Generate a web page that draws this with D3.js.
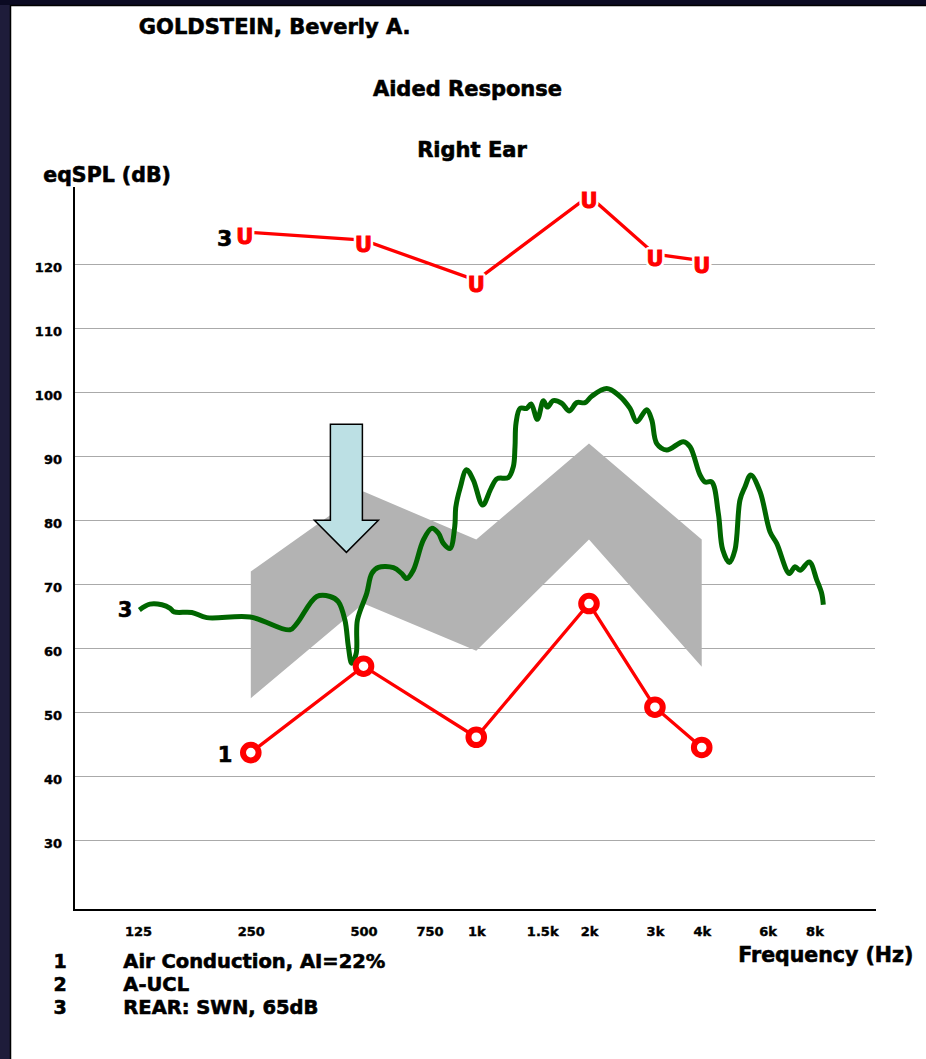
<!DOCTYPE html>
<html>
<head>
<meta charset="utf-8">
<script src="https://cdn.jsdelivr.net/npm/d3@7"></script>
<style>
  html, body { margin: 0; padding: 0; background: #1d1b38; }
  svg { display: block; }
  text { font-family: "DejaVu Sans", "Liberation Sans", Arial, sans-serif; font-weight: bold; }
  text.heavy { stroke: #000; stroke-width: 0.6px; }
</style>
</head>
<body>
<svg id="chart" width="926" height="1059"></svg>
<script>
// ---------- DATA ----------
const freqTicks = [125, 250, 500, 750, 1000, 1500, 2000, 3000, 4000, 6000, 8000];
const freqTickLabels = ["125", "250", "500", "750", "1k", "1.5k", "2k", "3k", "4k", "6k", "8k"];
const dbTicks = [30, 40, 50, 60, 70, 80, 90, 100, 110, 120];

// 1: Air conduction thresholds (aided)
const acFreqs = [250, 500, 1000, 2000, 3000, 4000];
const acValues = [43.7, 57.2, 46.1, 67.0, 50.8, 44.5];

// A-UCL ("U" markers)
const uclFreqs = [250, 500, 1000, 2000, 3000, 4000];
const uclValues = [125.0, 123.8, 117.5, 130.7, 121.6, 120.6];

// Gray speech band
const bandFreqs = [250, 500, 1000, 2000, 4000];
const bandUpper = [72.0, 84.5, 77.0, 92.0, 77.0];
const bandLower = [52.2, 67.0, 59.6, 77.0, 57.1];

// REAR: SWN 65 dB (green curve)
const rearFreqs = [126, 134.5, 144.7, 152.3, 156, 174, 190.7, 249, 318, 332, 375, 407, 428, 446, 455.5, 465, 478, 481.5, 510, 526, 548, 601, 632, 652, 679, 722, 760, 792, 817, 851, 876, 882, 905, 942, 982, 1040, 1095, 1136, 1218, 1256, 1269, 1277, 1309, 1364, 1401, 1456, 1511, 1548, 1606, 1691, 1773, 1855, 1952, 2034, 2230, 2395, 2574, 2682, 2852, 2942, 3034, 3226, 3573, 3723, 3958, 4082, 4255, 4430, 4551, 4740, 4908, 5062, 5220, 5407, 5725, 6088, 6343, 6855, 7100, 7322, 7750, 8112, 8363, 8448];
const rearValues = [66.0, 66.9, 66.8, 66.25, 65.7, 65.6, 64.8, 64.9, 62.9, 63.9, 68.1, 68.1, 67.3, 64.4, 60.25, 57.65, 59.2, 64.4, 68.6, 71.7, 72.65, 72.6, 71.7, 70.9, 72.2, 76.9, 78.75, 78.0, 76.4, 75.6, 79.0, 82.1, 85.0, 87.9, 86.3, 82.4, 85.0, 86.5, 86.7, 88.4, 91.5, 95.2, 97.5, 97.5, 98.2, 95.8, 98.7, 97.7, 98.7, 98.3, 97.1, 98.4, 98.4, 99.4, 100.6, 99.6, 97.5, 95.4, 97.3, 95.7, 92.0, 91.0, 92.3, 91.5, 87.1, 86.0, 86.0, 81.1, 75.4, 73.4, 75.4, 83.2, 85.25, 87.1, 84.5, 78.2, 76.4, 71.7, 72.75, 72.2, 73.5, 70.7, 68.6, 66.8];

// Annotation arrow (frequency, top dB, head-base dB, tip dB)
const arrowFreq = 450;
const arrowTopDb = 95;
const arrowHeadDb = 80;
const arrowTipDb = 75;

const titleText = "GOLDSTEIN, Beverly A.";
const subTitle1 = "Aided Response";
const subTitle2 = "Right Ear";
const yTitle = "eqSPL (dB)";
const xTitle = "Frequency (Hz)";
const legendNums = ["1", "2", "3"];
const legendLabels = ["Air Conduction, AI=22%", "A-UCL", "REAR: SWN, 65dB"];

// ---------- LAYOUT ----------
const W = 926, H = 1059;
const plot = { left: 74, right: 876, top: 187, bottom: 910 };

const svg = d3.select("#chart");

// frame
svg.append("rect").attr("x", 0).attr("y", 0).attr("width", W).attr("height", H).attr("fill", "#1e1c3a");
svg.append("rect").attr("x", 0).attr("y", 0).attr("width", W).attr("height", 5).attr("fill", "#0b0a22");
svg.append("rect").attr("x", 10.5).attr("y", 5.5).attr("width", W).attr("height", H)
  .attr("fill", "#ffffff").attr("stroke", "#000").attr("stroke-width", 1.5);

const x = d3.scaleLog().domain([84.3, 11680]).range([plot.left, plot.right]);
const y = d3.scaleLinear().domain([19.1, 132.1]).range([plot.bottom, plot.top]);

// gridlines
svg.append("g").selectAll("line").data(dbTicks).join("line")
  .attr("x1", plot.left).attr("x2", plot.right - 1)
  .attr("y1", d => Math.round(y(d)) + 0.5).attr("y2", d => Math.round(y(d)) + 0.5)
  .attr("stroke", "#aaaaaa").attr("stroke-width", 1);

// y axis labels
const yAxis = d3.axisLeft(y).tickValues(dbTicks).tickSize(0).tickPadding(12).tickFormat(d3.format("d"));
const gy = svg.append("g").attr("transform", `translate(${plot.left},0)`).call(yAxis);
gy.select(".domain").remove();
gy.selectAll("text").attr("font-size", 13).attr("fill", "#000").attr("class", "heavy")
  .style("stroke-width", "0.4px")
  .attr("font-family", "DejaVu Sans").attr("font-weight", "bold").attr("dy", "0.55em");

// x axis labels
const xAxis = d3.axisBottom(x).tickValues(freqTicks).tickSize(0).tickPadding(0)
  .tickFormat((d, i) => freqTickLabels[i]);
const gx = svg.append("g").attr("transform", `translate(0,${plot.bottom})`).call(xAxis);
gx.select(".domain").remove();
gx.selectAll("text").attr("font-size", 13).attr("fill", "#000").attr("class", "heavy")
  .style("stroke-width", "0.4px")
  .attr("font-family", "DejaVu Sans").attr("font-weight", "bold").attr("y", 26).attr("dy", 0);

// axis lines
svg.append("line").attr("x1", plot.left).attr("x2", plot.left).attr("y1", plot.top).attr("y2", plot.bottom + 1)
  .attr("stroke", "#000").attr("stroke-width", 2);
svg.append("line").attr("x1", plot.left - 1).attr("x2", plot.right).attr("y1", plot.bottom).attr("y2", plot.bottom)
  .attr("stroke", "#000").attr("stroke-width", 2);

// gray band
const bandData = bandFreqs.map((f, i) => ({ f, lo: bandLower[i], hi: bandUpper[i] }));
svg.append("path").datum(bandData)
  .attr("d", d3.area().x(d => x(d.f)).y0(d => y(d.lo)).y1(d => y(d.hi)))
  .attr("fill", "#b3b3b3");

// arrow
const ax = x(arrowFreq), shaftHalf = 16, headHalf = 32;
const yTop = y(arrowTopDb), yHead = y(arrowHeadDb), yTip = y(arrowTipDb);
const arrowPts = [
  [ax - shaftHalf, yTop], [ax + shaftHalf, yTop], [ax + shaftHalf, yHead], [ax + headHalf, yHead],
  [ax, yTip], [ax - headHalf, yHead], [ax - shaftHalf, yHead]
];
svg.append("path").attr("d", d3.line()(arrowPts) + "Z")
  .attr("fill", "#bce0e4").attr("stroke", "#000").attr("stroke-width", 1.5).attr("stroke-linejoin", "miter");

// green REAR curve
const rearData = rearFreqs.map((f, i) => ({ f, v: rearValues[i] }));
svg.append("path").datum(rearData)
  .attr("d", d3.line().x(d => x(d.f)).y(d => y(d.v)).curve(d3.curveCatmullRom.alpha(0.5)))
  .attr("fill", "none").attr("stroke", "#006600").attr("stroke-width", 5)
  .attr("stroke-linejoin", "round").attr("stroke-linecap", "butt");

// UCL line
const uclData = uclFreqs.map((f, i) => ({ f, v: uclValues[i] }));
svg.append("path").datum(uclData)
  .attr("d", d3.line().x(d => x(d.f)).y(d => y(d.v)))
  .attr("fill", "none").attr("stroke", "#ff0000").attr("stroke-width", 3.3);
// white halo then heavy red glyph
const uX = (d, i) => x(d.f) - (i === 0 ? 6 : 0);
svg.append("g").selectAll("text").data(uclData).join("text")
  .attr("x", uX).attr("y", d => y(d.v) + 12)
  .attr("text-anchor", "middle").attr("font-size", 21)
  .attr("fill", "#fff").attr("stroke", "#fff").attr("stroke-width", 6).attr("stroke-linejoin", "round")
  .text("U");
svg.append("g").selectAll("text").data(uclData).join("text")
  .attr("x", uX).attr("y", d => y(d.v) + 12)
  .attr("text-anchor", "middle").attr("font-size", 21)
  .attr("fill", "#ff0000").attr("stroke", "#ff0000").attr("stroke-width", 1)
  .text("U");

// AC line + circles
const acData = acFreqs.map((f, i) => ({ f, v: acValues[i] }));
svg.append("path").datum(acData)
  .attr("d", d3.line().x(d => x(d.f)).y(d => y(d.v)))
  .attr("fill", "none").attr("stroke", "#ff0000").attr("stroke-width", 3.3);
svg.append("g").selectAll("circle").data(acData).join("circle")
  .attr("cx", d => x(d.f)).attr("cy", d => y(d.v)).attr("r", 7.8)
  .attr("fill", "#fff").attr("stroke", "#ff0000").attr("stroke-width", 6);

// series number labels
svg.append("text").attr("class", "heavy").attr("x", x(acFreqs[0]) - 18.5).attr("y", y(acValues[0]) + 9)
  .attr("text-anchor", "end").attr("font-size", 21).attr("fill", "#000").text("1");
svg.append("text").attr("class", "heavy").attr("x", x(uclFreqs[0]) - 18.5).attr("y", y(uclValues[0]) + 13.7)
  .attr("text-anchor", "end").attr("font-size", 22).attr("fill", "#000").text("3");
svg.append("text").attr("class", "heavy").attr("x", x(rearFreqs[0]) - 7).attr("y", y(rearValues[0]) + 7.3)
  .attr("text-anchor", "end").attr("font-size", 21).attr("fill", "#000").text("3");

// titles
svg.append("text").attr("class", "heavy").attr("x", 274.7).attr("y", 34.3).attr("text-anchor", "middle")
  .attr("font-size", 21).attr("fill", "#000").text(titleText);
svg.append("text").attr("class", "heavy").attr("x", 467.5).attr("y", 95.7).attr("text-anchor", "middle")
  .attr("font-size", 21).attr("fill", "#000").text(subTitle1);
svg.append("text").attr("class", "heavy").attr("x", 472).attr("y", 156.7).attr("text-anchor", "middle")
  .attr("font-size", 21).attr("fill", "#000").text(subTitle2);
svg.append("text").attr("class", "heavy").attr("x", 43.3).attr("y", 181.7)
  .attr("font-size", 20.5).attr("fill", "#000").text(yTitle);
svg.append("text").attr("class", "heavy").attr("x", 913.3).attr("y", 961.7).attr("text-anchor", "end")
  .attr("font-size", 20.5).attr("fill", "#000").text(xTitle);

// legend
const legendY = [968, 991, 1014];
const lg = svg.append("g");
lg.selectAll("text.num").data(legendNums).join("text").attr("class", "num heavy")
  .attr("x", 60).attr("y", (d, i) => legendY[i]).attr("text-anchor", "middle")
  .attr("font-size", 19).attr("fill", "#000").text(d => d);
lg.selectAll("text.lab").data(legendLabels).join("text").attr("class", "lab heavy")
  .attr("x", 123.3).attr("y", (d, i) => legendY[i])
  .attr("font-size", 19.5).attr("fill", "#000").text(d => d);
</script>
</body>
</html>
